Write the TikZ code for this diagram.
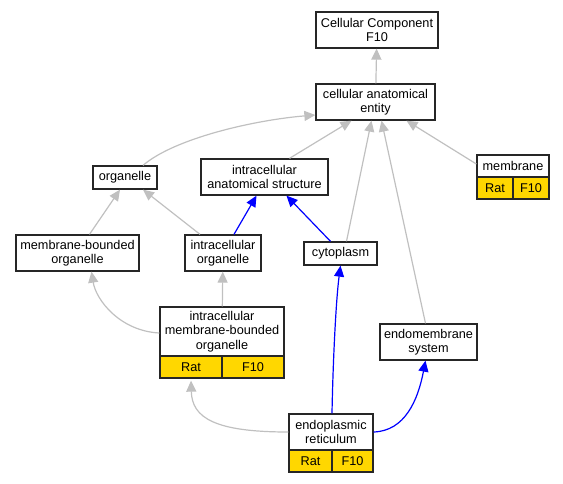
\documentclass[tikz,border=0pt]{standalone}
\usepackage{fontspec}
\setmainfont{Liberation Sans}
\usetikzlibrary{arrows.meta}
\definecolor{gold}{HTML}{FFD700}
\definecolor{edgegray}{HTML}{C0C0C0}
\begin{document}
\begin{tikzpicture}[x=1pt,y=-1pt,
 box/.style={draw=black!85,line width=1.3pt,fill=white,inner sep=0pt,align=center,font=\fontsize{12.7}{14.5}\selectfont},
 goldbox/.style={box,fill=gold},
 isa/.style={draw=edgegray,line width=1.2pt,-{Triangle[length=11pt,width=10pt]}},
 partof/.style={draw=blue,line width=1.2pt,-{Triangle[length=11pt,width=10pt]}}]
\useasboundingbox (0,0) rectangle (563,483);
% nodes
\node[box,minimum width=122pt,minimum height=36pt] (cc) at (377,30) {Cellular Component\\F10};
\node[box,minimum width=119pt,minimum height=36pt] (cae) at (375.5,102) {cellular anatomical\\entity};
\node[box,minimum width=64pt,minimum height=23pt] (org) at (125,177.5) {organelle};
\node[box,minimum width=127pt,minimum height=36pt] (ias) at (264.5,177) {intracellular\\anatomical structure};
\node[box,minimum width=72pt,minimum height=22pt] (mem) at (513,166) {membrane};
\node[goldbox,minimum width=36pt,minimum height=22pt] (memr) at (495,188) {Rat};
\node[goldbox,minimum width=36pt,minimum height=22pt] (memf) at (531,188) {F10};
\node[box,minimum width=123pt,minimum height=36pt] (mbo) at (77.5,253) {membrane-bounded\\organelle};
\node[box,minimum width=76pt,minimum height=36pt] (io) at (223,253) {intracellular\\organelle};
\node[box,minimum width=73pt,minimum height=23pt] (cyt) at (340.5,253.5) {cytoplasm};
\node[box,minimum width=124pt,minimum height=49pt] (imbo) at (222,331.5) {intracellular\\membrane-bounded\\organelle};
\node[goldbox,minimum width=62pt,minimum height=22pt] (imbor) at (191,367) {Rat};
\node[goldbox,minimum width=62pt,minimum height=22pt] (imbof) at (253,367) {F10};
\node[box,minimum width=97pt,minimum height=36pt] (ems) at (428.5,342) {endomembrane\\system};
\node[box,minimum width=84pt,minimum height=36pt] (er) at (331,432) {endoplasmic\\reticulum};
\node[goldbox,minimum width=43pt,minimum height=22pt] (err) at (310.5,461) {Rat};
\node[goldbox,minimum width=41pt,minimum height=22pt] (erf) at (352.5,461) {F10};
% edges
\draw[isa] (cae) -- (cc);
\draw[isa] ([xshift=18pt]org.north) .. controls (175,138) and (255,120) .. ([yshift=-13pt]cae.west);
\draw[isa] ([xshift=25pt]ias.north) -- ([xshift=-24pt]cae.south);
\draw[isa] ([xshift=6pt]cyt.north) -- ([xshift=-4pt]cae.south);
\draw[isa] ([xshift=-3pt]ems.north) -- ([xshift=6pt]cae.south);
\draw[isa] ([yshift=2pt]mem.west) -- ([xshift=31pt]cae.south);
\draw[isa] ([xshift=12pt]mbo.north) -- ([xshift=-5pt]org.south);
\draw[isa] ([xshift=-23pt]io.north) -- ([xshift=18pt]org.south);
\draw[partof] ([xshift=11pt]io.north) -- ([xshift=-8pt]ias.south);
\draw[partof] ([xshift=-10pt]cyt.north) -- ([xshift=22pt]ias.south);
\draw[isa] ([yshift=-1.5pt]imbo.west) .. controls (120,331) and (96,300) .. ([xshift=14pt]mbo.south);
\draw[isa] (imbo) -- (io);
\draw[isa] (er.west) .. controls (215,432) and (192,418) .. ([yshift=-2pt]imbor.south);
\draw[partof] ([xshift=1pt]er.north) .. controls (333,360) and (336,300) .. (cyt.south);
\draw[partof] (er.east) .. controls (405,431) and (418,400) .. ([xshift=-3pt]ems.south);
\end{tikzpicture}
\end{document}
